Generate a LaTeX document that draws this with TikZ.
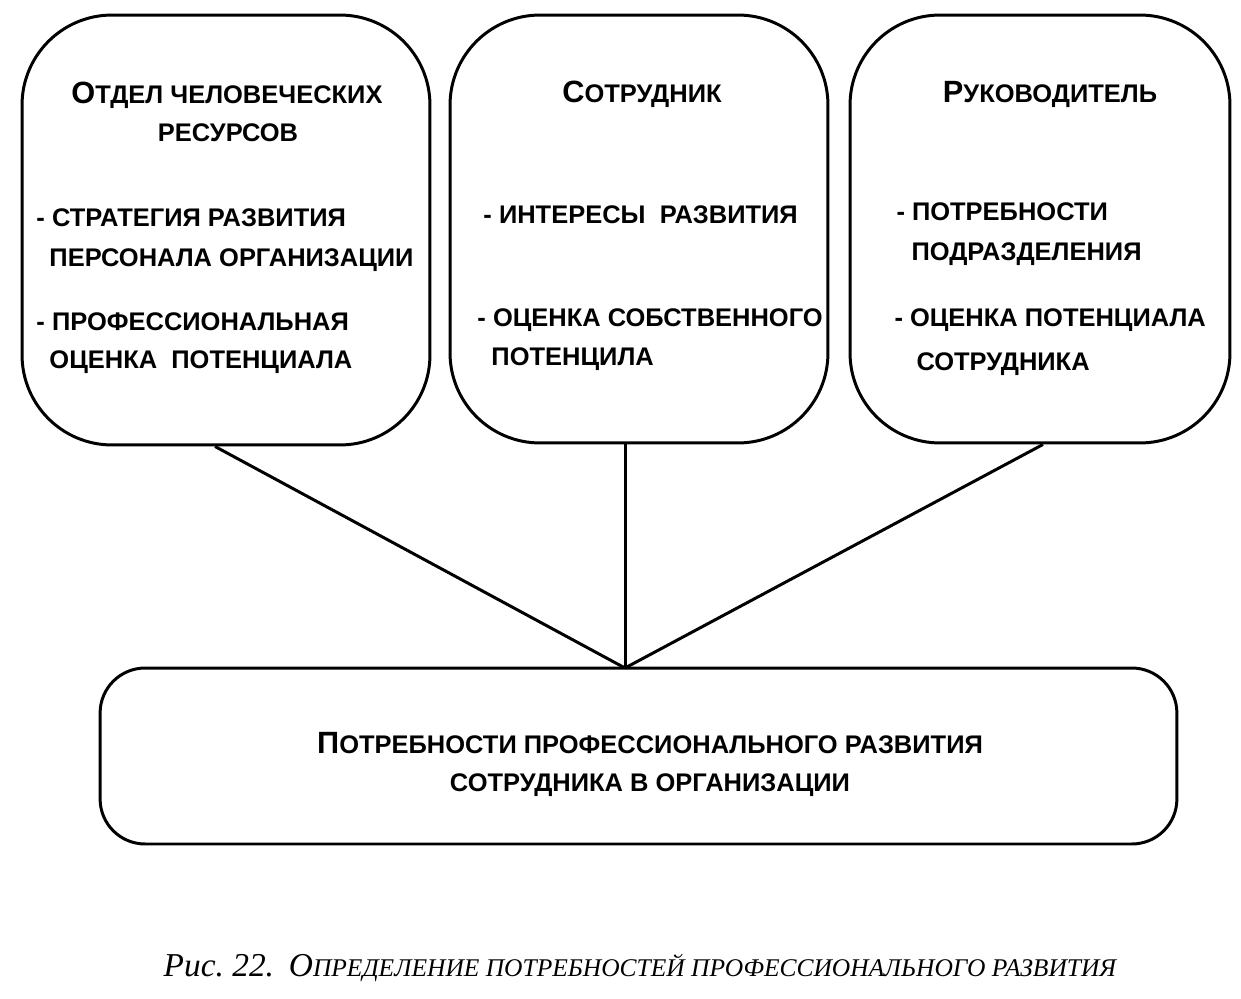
\documentclass[tikz,border=0pt]{standalone}
\usepackage{fontspec}
\setmainfont{Liberation Sans}
\newfontfamily\capfont{Liberation Serif}
\usetikzlibrary{positioning}

\tikzset{
	bigbox/.style = {draw, rounded corners = 1.8cm, inner sep = 0pt},
	item/.style = {anchor = base west, inner sep = 0pt, font = \fontsize{14.5}{17}\selectfont\bfseries},
	head/.style = {anchor = base, inner sep = 0pt, font = \fontsize{14.5}{17}\selectfont\bfseries},
}
\newcommand{\bigletter}[1]{{\fontsize{17.5}{20}\selectfont #1}}

\begin{document}
\begin{tikzpicture}[x = 0.02cm, y = -0.02cm, line width = 1.7pt]

\useasboundingbox (0,0) rectangle (1241,998);

% the three sources
\node[bigbox, minimum width = 8.16cm, minimum height = 8.6cm] (hrdept) at (226,230) {};
\node[bigbox, minimum width = 7.56cm, minimum height = 8.56cm] (employee) at (639,229) {};
\node[bigbox, minimum width = 7.6cm, minimum height = 8.56cm] (manager) at (1040,229) {};

% the result
\node[draw, rounded corners = 0.9cm, minimum width = 21.54cm, minimum height = 3.52cm] (needs) at (638.5,756) {};

\node[head] (hrhead1) at (227,103) {\bigletter{О}ТДЕЛ ЧЕЛОВЕЧЕСКИХ};
\node[head] (hrhead2) at (228,141) {РЕСУРСОВ};
\node[head] (emhead) at (642,102) {\bigletter{С}ОТРУДНИК};
\node[head] (mghead) at (1050,102) {\bigletter{Р}УКОВОДИТЕЛЬ};

\foreach \x/\y/\t[count = \i] in {
	35/226/- СТРАТЕГИЯ РАЗВИТИЯ, 48/266/ПЕРСОНАЛА ОРГАНИЗАЦИИ,
	35/330/- ПРОФЕССИОНАЛЬНАЯ, 48/368/ОЦЕНКА~ ПОТЕНЦИАЛА,
	482/223/- ИНТЕРЕСЫ~ РАЗВИТИЯ,
	476/326/- ОЦЕНКА СОБСТВЕННОГО, 490/365/ПОТЕНЦИЛА,
	895/220/- ПОТРЕБНОСТИ, 910/260/ПОДРАЗДЕЛЕНИЯ,
	893/326/- ОЦЕНКА ПОТЕНЦИАЛА, 915/370/СОТРУДНИКА} {
	\node[item] (item\i) at (\x,\y) {\t};
}

\node[head] (needs1) at (650,753) {\bigletter{П}ОТРЕБНОСТИ ПРОФЕССИОНАЛЬНОГО РАЗВИТИЯ};
\node[head] (needs2) at (650,791) {СОТРУДНИКА В ОРГАНИЗАЦИИ};

\coordinate (join) at (625,668);
\draw ([xshift = -0.22cm]hrdept.south) -- (join);
\draw (employee.south -| join) -- (join);
\draw ([xshift = 0.06cm]manager.south) -- (join);

\node[anchor = base, inner sep = 0pt, font = \capfont\itshape\fontsize{14.5}{17}\selectfont] (caption) at (640,976)
	{{\fontsize{19}{22}\selectfont Рис.~22.}~ {\fontsize{19}{22}\selectfont О}ПРЕДЕЛЕНИЕ ПОТРЕБНОСТЕЙ ПРОФЕССИОНАЛЬНОГО РАЗВИТИЯ};

\end{tikzpicture}
\end{document}
